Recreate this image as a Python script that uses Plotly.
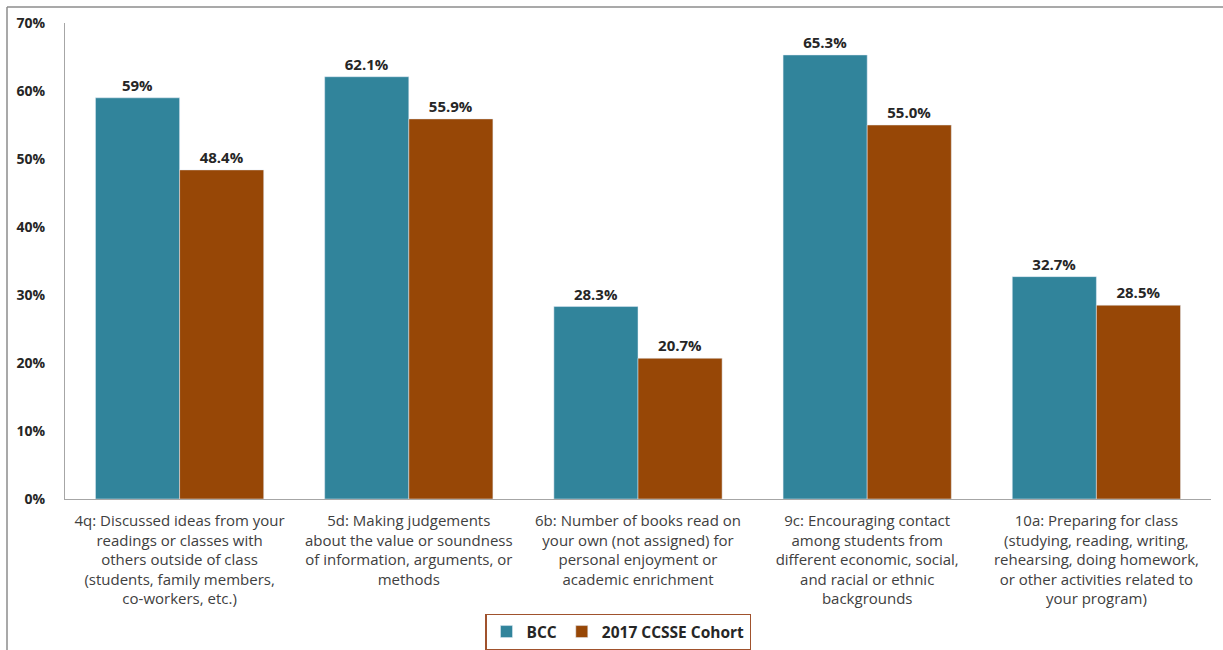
import plotly.graph_objects as go

categories = [
    "4q: Discussed ideas from your<br>readings or classes with<br>others outside of class<br>(students, family members,<br>co-workers, etc.)",
    "5d: Making judgements<br>about the value or soundness<br>of information, arguments, or<br>methods",
    "6b: Number of books read on<br>your own (not assigned) for<br>personal enjoyment or<br>academic enrichment",
    "9c: Encouraging contact<br>among students from<br>different economic, social,<br>and racial or ethnic<br>backgrounds",
    "10a: Preparing for class<br>(studying, reading, writing,<br>rehearsing, doing homework,<br>or other activities related to<br>your program)",
]
bcc = [59.0, 62.1, 28.3, 65.3, 32.7]
cohort = [48.4, 55.9, 20.7, 55.0, 28.5]
bcc_labels = ["59%", "62.1%", "28.3%", "65.3%", "32.7%"]
cohort_labels = ["48.4%", "55.9%", "20.7%", "55.0%", "28.5%"]
y_ticks = [0, 10, 20, 30, 40, 50, 60, 70]
y_tick_labels = ["0%", "10%", "20%", "30%", "40%", "50%", "60%", "70%"]

FONT = "Open Sans"
W, H = 1223, 650
L, R, T, B = 65, 12, 23, 151
pw, ph = W - L - R, H - T - B

def px_x(x):
    return (x - L) / pw

def px_y(y):
    return (H - B - y) / ph

fig = go.Figure()
fig.add_trace(go.Bar(
    x=categories, y=bcc, name="BCC", marker_color="#31849B",
    text=bcc_labels, textposition="outside", cliponaxis=False,
    textfont=dict(family=FONT, size=15, color="#262626", weight="bold"),
))
fig.add_trace(go.Bar(
    x=categories, y=cohort, name="2017 CCSSE Cohort", marker_color="#974706",
    text=cohort_labels, textposition="outside", cliponaxis=False,
    textfont=dict(family=FONT, size=15, color="#262626", weight="bold"),
))

fig.update_layout(
    width=W, height=H,
    margin=dict(l=L, r=R, t=T, b=B, autoexpand=False),
    paper_bgcolor="white", plot_bgcolor="white",
    barmode="group", bargap=0.266, bargroupgap=0,
    font=dict(family=FONT, size=15, color="#404040"),
    showlegend=True,
    legend=dict(
        orientation="h", x=618 / W, xanchor="center",
        xref="container", yref="container",
        y=1 - 632 / H, yanchor="middle",
        bordercolor="#A0522D", borderwidth=1.5,
        font=dict(family=FONT, size=15.5, color="#262626", weight="bold"),
        itemwidth=30, tracegroupgap=0,
    ),
)
fig.update_xaxes(
    showline=True, linecolor="#A6A6A6", linewidth=1.2,
    tickfont=dict(family=FONT, size=15, color="#404040"),
    ticks="", showgrid=False, automargin=False, ticklabelstandoff=8,
)
fig.update_yaxes(
    range=[0, 70], tickvals=y_ticks, ticktext=y_tick_labels,
    showline=True, linecolor="#A6A6A6", linewidth=1.2,
    showgrid=False, zeroline=False, ticks="", automargin=False,
    tickfont=dict(family=FONT, size=14, color="#262626", weight="bold"),
    ticklabelstandoff=16,
)

# outer frame (top and left edges)
fig.add_shape(type="line", xref="paper", yref="paper",
              x0=px_x(7), x1=px_x(1223), y0=px_y(7), y1=px_y(7),
              line=dict(color="#8C8C8C", width=1.5))
fig.add_shape(type="line", xref="paper", yref="paper",
              x0=px_x(7), x1=px_x(7), y0=px_y(7), y1=px_y(650),
              line=dict(color="#8C8C8C", width=1.5))

fig.write_html("out.html")
